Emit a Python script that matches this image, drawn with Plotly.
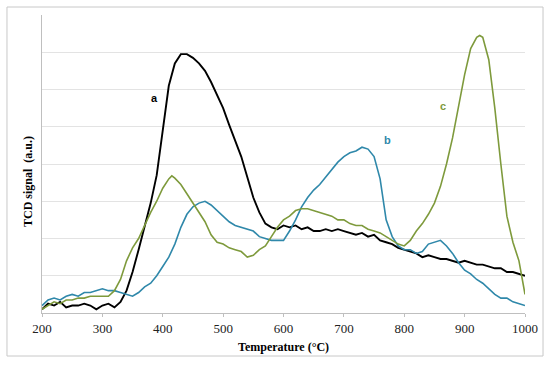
import plotly.graph_objects as go

temp_a = [200,210,220,230,240,250,260,270,280,290,300,310,320,330,340,350,360,370,380,390,400,410,420,430,440,450,460,470,480,490,500,510,520,530,540,550,560,570,580,590,600,610,620,630,640,650,660,670,680,690,700,710,720,730,740,750,760,770,780,790,800,810,820,830,840,850,860,870,880,890,900,910,920,930,940,950,960,970,980,990,1000]
sig_a = [0.1,0.25,0.2,0.3,0.15,0.2,0.2,0.25,0.2,0.1,0.2,0.25,0.15,0.3,0.6,1.1,1.7,2.3,2.95,3.7,4.9,6.1,6.7,6.95,6.95,6.85,6.7,6.5,6.2,5.85,5.5,5.05,4.65,4.2,3.65,3.1,2.7,2.4,2.3,2.25,2.35,2.3,2.35,2.25,2.3,2.2,2.2,2.25,2.2,2.25,2.2,2.15,2.1,2.15,2.05,2.1,1.95,1.9,1.85,1.75,1.7,1.65,1.6,1.5,1.55,1.5,1.45,1.45,1.4,1.35,1.4,1.35,1.3,1.3,1.25,1.2,1.2,1.1,1.1,1.05,1.0]

temp_b = [200,210,220,230,240,250,260,270,280,290,300,310,320,330,340,350,360,370,380,390,400,410,420,430,440,450,460,470,480,490,500,510,520,530,540,550,560,570,580,590,600,610,620,630,640,650,660,670,680,690,700,710,720,730,740,750,760,765,770,780,790,800,810,820,830,840,850,860,870,880,890,900,910,920,930,940,950,960,970,980,990,1000]
sig_b = [0.2,0.35,0.4,0.35,0.45,0.5,0.45,0.55,0.55,0.6,0.65,0.6,0.6,0.55,0.5,0.45,0.55,0.7,0.8,1.0,1.25,1.5,1.85,2.3,2.65,2.85,2.95,3.0,2.9,2.75,2.6,2.45,2.35,2.3,2.25,2.2,2.05,2.0,1.95,1.95,1.95,2.2,2.5,2.85,3.1,3.3,3.45,3.65,3.85,4.05,4.2,4.3,4.35,4.45,4.4,4.2,3.6,3.0,2.5,2.05,1.8,1.7,1.7,1.6,1.65,1.85,1.9,1.95,1.8,1.6,1.35,1.15,1.05,0.9,0.8,0.65,0.5,0.4,0.4,0.3,0.25,0.2]

temp_c = [200,210,220,230,240,250,260,270,280,290,300,310,320,330,340,350,360,370,380,390,400,410,415,420,430,440,450,460,470,480,490,500,510,520,530,540,550,560,570,580,590,600,610,620,630,640,650,660,670,680,690,700,710,720,730,740,750,760,770,780,790,800,810,820,830,840,850,860,870,880,890,900,910,920,925,930,940,950,960,970,980,990,1000]
sig_c = [0.1,0.2,0.3,0.25,0.35,0.35,0.4,0.4,0.45,0.45,0.45,0.45,0.6,0.9,1.4,1.75,2.0,2.35,2.7,3.0,3.35,3.6,3.68,3.62,3.45,3.2,2.95,2.7,2.45,2.1,1.9,1.85,1.75,1.7,1.65,1.5,1.55,1.7,1.8,2.05,2.3,2.5,2.6,2.75,2.8,2.8,2.75,2.7,2.65,2.6,2.5,2.5,2.4,2.35,2.35,2.25,2.2,2.15,2.05,1.95,1.85,1.8,1.95,2.2,2.4,2.65,2.95,3.4,4.0,4.7,5.6,6.4,7.1,7.4,7.45,7.4,6.8,5.5,4.0,2.6,1.9,1.4,0.5]

x_ticks = [200,300,400,500,600,700,800,900,1000]
labels = ["a", "b", "c"]
label_x = [387, 773, 864]
label_y = [5.77, 4.64, 5.56]

col_a = "#000000"
col_b = "#2f88aa"
col_c = "#7e9a3c"

fig = go.Figure()
fig.add_trace(go.Scatter(x=temp_a, y=sig_a, mode="lines", line=dict(color=col_a, width=1.9), showlegend=False))
fig.add_trace(go.Scatter(x=temp_b, y=sig_b, mode="lines", line=dict(color=col_b, width=1.6), showlegend=False))
fig.add_trace(go.Scatter(x=temp_c, y=sig_c, mode="lines", line=dict(color=col_c, width=1.6), showlegend=False))

for t, lx, ly, c in zip(labels, label_x, label_y, [col_a, col_b, col_c]):
    fig.add_annotation(x=lx, y=ly, text="<b>" + t + "</b>", showarrow=False,
                       font=dict(family="Liberation Sans", size=11, color=c))

fig.add_annotation(xref="paper", yref="paper", x=0.499, y=-0.114, yanchor="middle",
                   text="<b>Temperature (°C)</b>",
                   showarrow=False, font=dict(family="Liberation Serif", size=12, color="#000000"))
fig.add_annotation(xref="paper", yref="paper", x=-0.029, y=0.443, xanchor="center", yanchor="middle",
                   text="<b>TCD signal  (a.u.)</b>",
                   textangle=-90, showarrow=False, font=dict(family="Liberation Serif", size=12, color="#000000"))

fig.add_shape(type="rect", xref="paper", yref="paper", x0=-0.0725, x1=1.0373, y0=-0.1443, y1=1.0268,
              line=dict(color="#c8c8c8", width=1), fillcolor="rgba(0,0,0,0)")

fig.update_xaxes(range=[200, 1000], tickvals=x_ticks, ticks="outside", ticklen=3, tickcolor="#bfbfbf",
                 showgrid=False, showline=True, linecolor="#bfbfbf", linewidth=1, zeroline=False,
                 tickfont=dict(family="Liberation Serif", size=13, color="#222222"))
fig.update_yaxes(range=[0, 8], dtick=1, showticklabels=False, ticks="", showgrid=True,
                 gridcolor="#e3e3e3", gridwidth=1, showline=True, linecolor="#bfbfbf",
                 linewidth=1, zeroline=False)
fig.update_layout(width=550, height=366, margin=dict(l=42, r=25, t=15, b=53),
                  plot_bgcolor="white", paper_bgcolor="white")
fig.write_html("out.html", config={"displayModeBar": False},
               post_script="document.body.style.margin='0';document.body.style.overflow='hidden';")
